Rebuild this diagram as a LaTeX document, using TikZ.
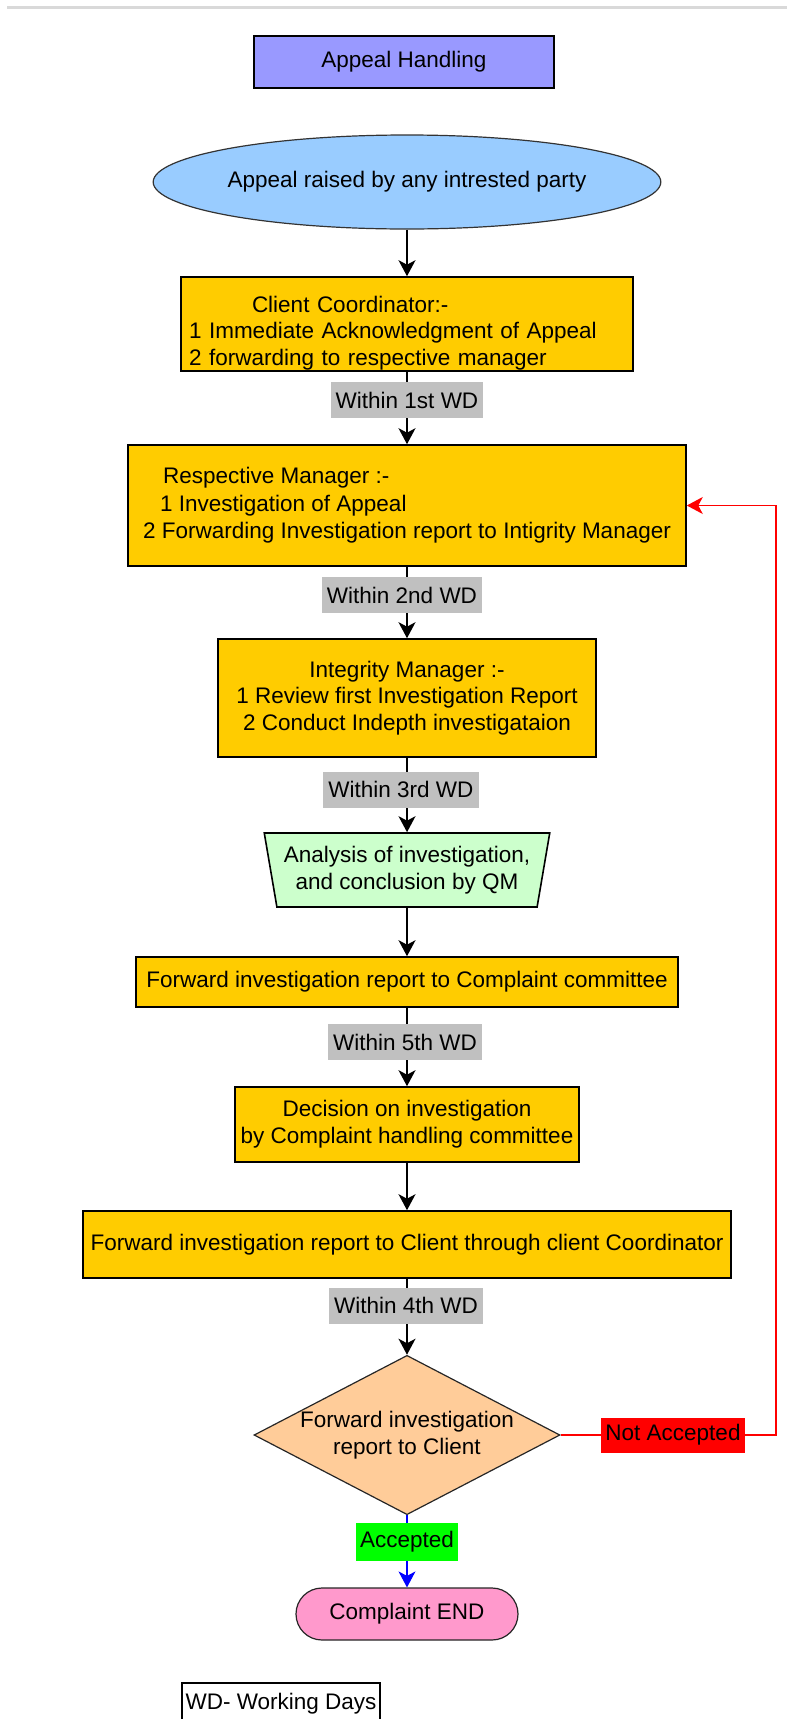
\documentclass[tikz,border=0pt]{standalone}
\usepackage{fontspec}
\setmainfont{Liberation Sans}
\usetikzlibrary{arrows.meta,shapes.geometric,shapes.misc}
\definecolor{titlec}{HTML}{9999FF}
\definecolor{ellc}{HTML}{99CCFF}
\definecolor{boxc}{HTML}{FFCC00}
\definecolor{trapc}{HTML}{CCFFCC}
\definecolor{diac}{HTML}{FFCC99}
\definecolor{lblc}{HTML}{C0C0C0}
\definecolor{endc}{HTML}{FF99CC}
\definecolor{topline}{HTML}{D9D9D9}
\definecolor{pureblue}{HTML}{0000FF}
\definecolor{purered}{HTML}{FF0000}
\definecolor{puregreen}{HTML}{00FF00}
\begin{document}
\begin{tikzpicture}[x=1pt,y=1pt,
  every node/.style={font=\fontsize{22.5}{27}\selectfont, text=black},
  box/.style={draw=black, line width=1.6pt, fill=boxc, inner sep=0pt},
  lbl/.style={fill=lblc, inner xsep=5pt, inner ysep=0pt, minimum height=36pt},
  arr/.style={line width=1.7pt, -{Stealth[length=16pt,width=17pt,inset=4.5pt]}},
  redarr/.style={draw=purered, line width=1.3pt, -{Stealth[length=16pt,width=17pt,inset=4.5pt]}},
  bluearr/.style={draw=pureblue, line width=1.3pt, -{Stealth[length=16pt,width=17pt,inset=4.5pt]}},
]
\useasboundingbox (0,0) rectangle (787,-1719);
\clip (0,0) rectangle (787,-1719);
\draw[topline, line width=3pt] (7,-7) -- (787,-7);

\node[draw=black, line width=1.6pt, fill=titlec, minimum width=300pt, minimum height=52pt, inner sep=0pt] (title) at (404,-62) {Appeal Handling};

\node[ellipse, draw=black!80, line width=1.2pt, fill=ellc, minimum width=490pt, minimum height=94pt, inner sep=0pt] (raise) at (407,-182) {Appeal raised by any intrested party};

\node[box, minimum width=452pt, minimum height=94pt, text width=436pt, align=left, font=\fontsize{22.5}{26.5}\selectfont] (cc) at (407,-324)
  {\rule{0pt}{33.7pt}\hspace*{63pt}Client Coordinator:-\\1 Immediate Acknowledgment of Appeal\\2 forwarding to respective manager};

\node[box, minimum width=558pt, minimum height=121pt, align=left, font=\fontsize{22.5}{27.5}\selectfont] (rm) at (407,-505.5)
  {\hspace*{20pt}Respective Manager :-\\\hspace*{17pt}1 Investigation of Appeal\\2 Forwarding Investigation report to Intigrity Manager};

\node[box, minimum width=378pt, minimum height=118pt, align=center, font=\fontsize{22.5}{26.5}\selectfont] (im) at (407,-698)
  {Integrity Manager :-\\1 Review first Investigation Report\\2 Conduct Indepth investigataion};

\node[trapezium, trapezium stretches=true, shape border rotate=180, trapezium left angle=76, trapezium right angle=76, draw=black, line width=1.6pt, fill=trapc, minimum width=286pt, minimum height=74pt, inner sep=0pt, align=center] (tr) at (407,-870)
  {Analysis of investigation,\\and conclusion by QM};

\node[box, minimum width=542pt, minimum height=50pt] (fc) at (407,-982) {Forward investigation report to Complaint committee};

\node[box, minimum width=344pt, minimum height=75pt, align=center] (dec) at (407,-1124.5) {Decision on investigation\\by Complaint handling committee};

\node[box, minimum width=648pt, minimum height=67pt] (fcl) at (407,-1244.5) {Forward investigation report to Client through client Coordinator};

\node[diamond, aspect=1.92, draw=black!85, line width=1.2pt, fill=diac, minimum width=301pt, minimum height=157pt, inner sep=0pt, align=center] (dia) at (407,-1435) {Forward investigation\\report to Client};

\node[rounded rectangle, draw=black!85, line width=1.2pt, fill=endc, minimum width=222pt, minimum height=52pt, inner sep=0pt] (fin) at (407,-1614) {Complaint END};

\node[draw=black, line width=1.3pt, minimum width=198pt, minimum height=42pt, inner sep=0pt] (wd) at (281,-1704) {WD- Working Days};

% connectors
\draw[arr] (raise.south) -- (cc.north);
\draw[arr] (cc.south) -- (rm.north);
\node[lbl] (w1) at (407,-400) {Within 1st WD};
\draw[arr] (rm.south) -- (im.north);
\node[lbl] (w2) at (402,-595) {Within 2nd WD};
\draw[arr] (im.south) -- (tr);
\node[lbl] (w3) at (401,-789.5) {Within 3rd WD};
\draw[arr] (tr) -- (fc.north);
\draw[arr] (fc.south) -- (dec.north);
\node[lbl] (w5) at (405,-1042) {Within 5th WD};
\draw[arr] (dec.south) -- (fcl.north);
\draw[arr] (fcl.south) -- (dia.north);
\node[lbl] (w4) at (406,-1305.5) {Within 4th WD};

\coordinate (rt) at (776,-1435);
\draw[redarr] (dia.east) -- (rt) |- (rm.east);
\node[fill=purered, inner xsep=4pt, inner ysep=0pt, minimum height=35pt] (na) at (673,-1435) {Not Accepted};

\draw[bluearr] (dia.south) -- (fin.north);
\node[fill=puregreen, inner xsep=4pt, inner ysep=0pt, minimum height=38pt] (acc) at (407,-1542) {Accepted};
\end{tikzpicture}
\end{document}
